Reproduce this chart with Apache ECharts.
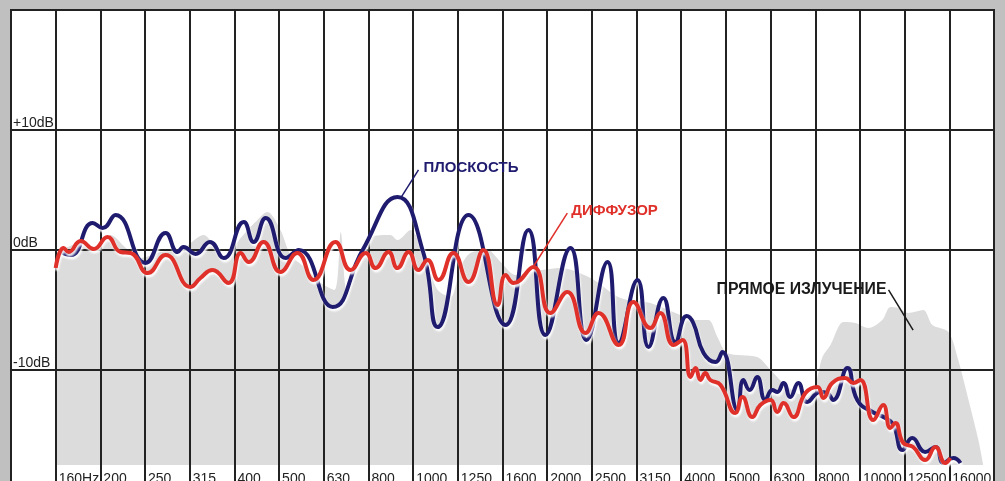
<!DOCTYPE html>
<html>
<head>
<meta charset="utf-8">
<script src="https://cdn.jsdelivr.net/npm/echarts@6/dist/echarts.min.js"></script>
<style>
  html, body { margin: 0; padding: 0; background: #c0c0c0; }
  #chart { width: 1005px; height: 481px; }
</style>
</head>
<body>
<div id="chart"></div>
<script>
// полосы 1/3 октавы, x = номер полосы (0 = 160 Гц)
const bandLabels = ['160Hz', '200', '250', '315', '400', '500', '630', '800', '1000', '1250',
  '1600', '2000', '2500', '3150', '4000', '5000', '6300', '8000', '10000', '12500', '16000']
const dbLabels = { '10': '+10dB', '0': '0dB', '-10': '-10dB' }

// прямое излучение (серая заливка), [полоса, дБ]
const directCurve = [
  [0, -0.25], [0.22, 0.17], [0.56, 0.58], [0.89, 0.17], [1.23, 1.25], [1.57, 0.17],
  [1.9, -0.67], [2.35, -0.17], [2.8, 0], [3.31, 1.25], [3.76, -0.58], [4.14, 1.0],
  [4.47, 2.33], [4.74, 3.17], [5.03, 1.67], [5.26, -0.42], [5.59, -1.5], [5.93, -2.75],
  [6.24, -3.33], [6.38, 1.5], [6.51, -3.33], [6.71, -1.0], [7.05, 1.08], [7.49, 1.25],
  [7.65, 0.83], [7.94, 1.67], [8.28, -0.83], [8.55, -3.33], [8.84, -3.92], [9.06, -1.42],
  [9.28, -0.25], [9.66, 0], [9.96, -1.0], [10.29, -2.08], [10.63, -1.83], [11.3, -1.5],
  [11.97, -2.33], [12.64, -4.0], [13.31, -4.42], [13.98, -5.42], [14.32, -5.83], [14.61, -5.83],
  [14.81, -7.25], [15.03, -8.58], [15.7, -8.92], [16.0, -10.0], [16.38, -11.42], [16.82, -12.25],
  [17.0, -11.25], [17.16, -8.92], [17.34, -7.92], [17.63, -6.0], [17.9, -6.08], [18.19, -6.5],
  [18.5, -5.83], [18.68, -4.75], [18.86, -4.83], [19.08, -5.25], [19.42, -5.0], [19.62, -6.25],
  [19.98, -6.83], [20.2, -9.17], [20.43, -12.5], [20.65, -15.83], [20.76, -17.92]
]
const directFloor = -17.92

// плоскость
const flatCurve = [
  [0.11, -0.17], [0.34, -0.42], [0.83, 2.25], [1.05, 1.83], [1.34, 2.92], [2.01, -1.08],
  [2.46, 1.42], [2.73, -0.17], [2.86, 0.25], [3.13, -0.33], [3.45, 0.67], [3.76, -0.67],
  [4.21, 2.33], [4.43, 0.67], [4.7, 2.67], [5.15, -0.67], [5.44, 0], [6.2, -4.75],
  [6.87, 0], [7.65, 4.42], [8.23, -0.25], [8.55, -6.42], [9.24, 2.92], [10.07, -6.25],
  [10.58, 1.67], [10.96, -7.08], [11.52, 0.17], [11.88, -7.5], [12.35, -1.0], [12.6, -7.75],
  [13.02, -2.5], [13.27, -8.08], [13.6, -4.0], [13.87, -7.67], [14.12, -5.5], [14.27, -6.08],
  [14.5, -8.58], [14.77, -9.33], [14.92, -8.5], [15.26, -13.33], [15.39, -10.83], [15.53, -11.67],
  [15.7, -10.58], [15.88, -12.5], [16.04, -11.67], [16.15, -11.83], [16.29, -11.08], [16.44, -12.25],
  [16.62, -11.08], [16.82, -12.67], [17.11, -11.83], [17.27, -11.92], [17.4, -12.5], [17.72, -9.83],
  [17.94, -12.5], [18.28, -13.5], [18.57, -14.0], [18.75, -14.58], [18.95, -16.67], [19.17, -15.67],
  [19.46, -16.83], [19.69, -16.42], [19.87, -17.75], [20.09, -17.33], [20.25, -17.75]
]

// диффузор
const diffuserCurve = [
  [0, -1.5], [0.18, 0.17], [0.29, -0.17], [0.56, 0.75], [0.85, 0.08], [1.16, 1.08],
  [1.45, -0.17], [1.68, -0.25], [2.06, -1.92], [2.46, -0.42], [3.02, -3.08], [3.24, -2.33],
  [3.51, -1.67], [3.87, -2.75], [4.14, -0.25], [4.32, -1.0], [4.65, 0.67], [5.03, -1.83],
  [5.41, -0.25], [5.77, -2.5], [6.26, 0.67], [6.6, -1.67], [6.94, -0.25], [7.16, -1.5],
  [7.45, -0.17], [7.65, -1.5], [7.9, -0.17], [8.12, -1.67], [8.32, -0.83], [8.57, -2.5],
  [8.9, -0.25], [9.24, -2.67], [9.57, 0], [9.89, -4.58], [10.07, -2.08], [10.25, -2.75],
  [10.69, -1.42], [11.07, -5.25], [11.45, -3.5], [11.86, -6.92], [12.15, -5.25], [12.6, -7.92],
  [12.93, -4.33], [13.31, -6.5], [13.53, -5.25], [13.83, -7.92], [14.03, -7.5], [14.21, -10.58],
  [14.32, -9.83], [14.43, -10.83], [14.54, -10.25], [14.65, -10.83], [14.88, -11.25], [15.21, -13.58],
  [15.37, -12.25], [15.59, -13.92], [15.77, -12.92], [16.0, -12.5], [16.15, -13.5], [16.29, -12.75],
  [16.51, -13.92], [16.78, -11.92], [17.05, -11.42], [17.18, -12.33], [17.38, -11.08], [17.67, -10.67],
  [17.85, -11.08], [18.01, -10.83], [18.3, -14.17], [18.52, -12.92], [18.68, -14.83], [18.79, -14.42],
  [18.97, -16.08], [19.19, -16.42], [19.46, -17.5], [19.69, -16.42], [19.91, -17.75], [20.02, -17.33]
]

// подписи: текст, точка текста, начало и конец выноски (в единицах осей)
const notes = [
  { text: 'ПЛОСКОСТЬ', color: '#1f1b6e', size: 15, at: [8.23, 6.83], from: [8.12, 6.67], to: [7.72, 4.33] },
  { text: 'ДИФФУЗОР', color: '#e0302a', size: 15, at: [11.54, 3.25], from: [11.45, 3.08], to: [10.67, -1.5] },
  { text: 'ПРЯМОЕ ИЗЛУЧЕНИЕ', color: '#1a1a1a', size: 15.8, at: [14.79, -3.33], from: [18.64, -3.33], to: [19.19, -6.67] }
]

const chart = echarts.init(document.getElementById('chart'))
const font = '"Liberation Sans", Arial, sans-serif'

const option = {
  backgroundColor: '#c0c0c0',
  animation: false,
  grid: {
    show: true,
    left: 11,
    right: 11,
    top: 10,
    bottom: -9,
    outerBoundsMode: 'none',
    containLabel: false,
    backgroundColor: '#fff',
    borderColor: '#222',
    borderWidth: 2
  },
  xAxis: {
    type: 'value',
    min: -1,
    max: 21,
    interval: 1,
    z: 2,
    axisLine: { show: false },
    axisTick: { show: false },
    splitLine: { lineStyle: { color: '#222', width: 2 } },
    axisLabel: {
      inside: true,
      margin: 4,
      align: 'left',
      verticalAlign: 'bottom',
      padding: [0, 0, 0, 3],
      color: '#222',
      fontFamily: font,
      fontSize: 14,
      hideOverlap: false,
      formatter: v => bandLabels[v] || ''
    }
  },
  yAxis: {
    type: 'value',
    min: -20,
    max: 20,
    interval: 10,
    z: 2,
    axisLine: { show: false },
    axisTick: { show: false },
    splitLine: { lineStyle: { color: '#222', width: 2 } },
    axisLabel: {
      inside: true,
      margin: 2,
      align: 'left',
      verticalAlign: 'bottom',
      color: '#222',
      fontFamily: font,
      fontSize: 14,
      formatter: v => dbLabels[v] || ''
    }
  },
  series: [
    {
      name: 'ПРЯМОЕ ИЗЛУЧЕНИЕ',
      type: 'line',
      z: 1,
      data: directCurve,
      smooth: 0.3,
      showSymbol: false,
      lineStyle: { width: 0 },
      areaStyle: { color: '#dcdcdc', opacity: 1, origin: directFloor }
    },
    {
      name: 'ПЛОСКОСТЬ',
      type: 'line',
      z: 3,
      data: flatCurve,
      smooth: 0.5,
      showSymbol: false,
      lineStyle: { color: '#1f1b6e', width: 4, shadowColor: 'rgba(255,255,255,0.9)', shadowOffsetX: 1, shadowOffsetY: 2.5, shadowBlur: 2 }
    },
    {
      name: 'ДИФФУЗОР',
      type: 'line',
      z: 4,
      data: diffuserCurve,
      smooth: 0.5,
      showSymbol: false,
      lineStyle: { color: '#e0302a', width: 4, shadowColor: 'rgba(255,255,255,0.9)', shadowOffsetX: 1, shadowOffsetY: 2.5, shadowBlur: 2 }
    }
  ]
}
chart.setOption(option)

// выноски привязаны к осям
const toPx = p => chart.convertToPixel({ gridIndex: 0 }, p)
const graphic = []
notes.forEach(n => {
  const a = toPx(n.at)
  const f = toPx(n.from)
  const t = toPx(n.to)
  graphic.push({
    type: 'line',
    z: 10,
    shape: { x1: f[0], y1: f[1], x2: t[0], y2: t[1] },
    style: { stroke: n.color, lineWidth: 1.5 }
  })
  graphic.push({
    type: 'text',
    z: 10,
    x: a[0],
    y: a[1],
    style: { text: n.text, fill: n.color, font: 'bold ' + n.size + 'px ' + font, verticalAlign: 'middle' }
  })
})
chart.setOption({ graphic })
</script>
</body>
</html>
